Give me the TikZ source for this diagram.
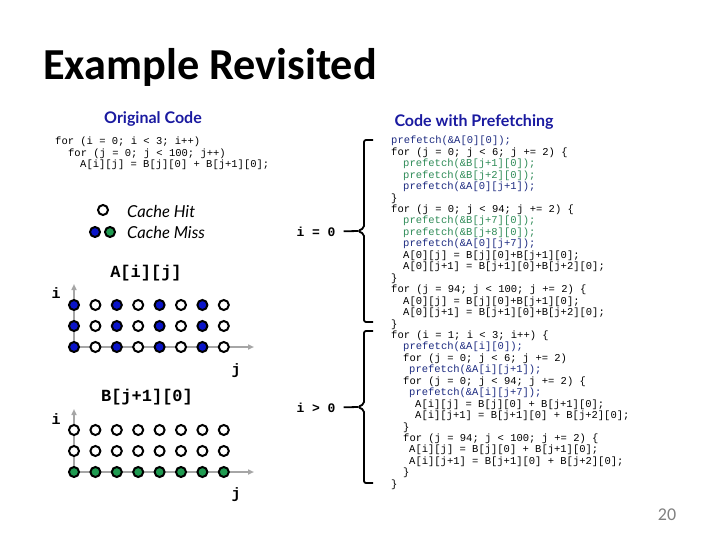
\documentclass[tikz,border=0pt]{standalone}
\usepackage{fontspec}
\setmainfont{Carlito}
\setmonofont{Liberation Mono}
\newfontfamily\headfont{Lato}
\usepackage{tikz}
\usetikzlibrary{arrows.meta, positioning}
\definecolor{slideblue}{HTML}{1A1AA0}
\definecolor{codenavy}{HTML}{1C2A80}
\definecolor{codegreen}{HTML}{2E8B57}
\definecolor{missblue}{HTML}{0A14C8}
\definecolor{missgreen}{HTML}{1F9A50}
\definecolor{axisgray}{HTML}{A6A6A6}
\newcommand{\codesize}{\fontsize{10.5}{11.45}\selectfont}
\newcommand{\codeind}[1]{\hspace*{#1pt}}
\newcommand{\navy}[1]{\textcolor{codenavy}{#1}}
\newcommand{\grn}[1]{\textcolor{codegreen}{#1}}
\tikzset{
  heading/.style={font=\headfont\bfseries\fontsize{16}{18}\selectfont, text=slideblue, inner sep=0pt},
  codebox/.style={font=\ttfamily\codesize, align=left, inner sep=0pt, anchor=north west},
  legendtext/.style={font=\headfont\itshape\fontsize{16.5}{18}\selectfont, inner sep=0pt, anchor=west},
  arrlabel/.style={font=\ttfamily\bfseries\fontsize{17}{19}\selectfont, inner sep=0pt},
  axislabel/.style={font=\ttfamily\bfseries\fontsize{15}{17}\selectfont, inner sep=0pt},
  caselabel/.style={font=\ttfamily\bfseries\fontsize{13}{15}\selectfont, inner sep=0pt},
  hit/.style={circle, draw=black, line width=2pt, fill=white, minimum size=10pt, inner sep=0pt},
  missa/.style={hit, fill=missblue},
  missb/.style={hit, fill=missgreen},
  axis/.style={-{Triangle[length=6pt, width=5pt]}, draw=axisgray, line width=1.5pt},
  brace/.style={line width=1.8pt, rounded corners=2pt},
  tick/.style={line width=1.8pt},
}

\begin{document}
\begin{tikzpicture}[x=1pt, y=-1pt]
  \useasboundingbox (0,0) rectangle (720,540);

  % title and headings
  \node[anchor=base west, inner sep=0pt, font=\bfseries\fontsize{44.3}{50}\selectfont]
    (title) at (43,80) {Example Revisited};
  \node[heading] (orighead) at (153,119) {Original Code};
  \node[heading] (prefhead) at (474,122) {Code with Prefetching};

  % original loop
  \node[codebox] (origcode) at (55,137) {%
    for (i = 0; i < 3; i++)\\
    \codeind{13}for (j = 0; j < 100; j++)\\
    \codeind{25}A[i][j] = B[j][0] + B[j+1][0];};

  % prefetching version
  \node[codebox] (prefcode) at (391,136) {%
    \navy{prefetch(\&A[0][0]);}\\
    for (j = 0; j < 6; j += 2) \{\\
    \codeind{12}\grn{prefetch(\&B[j+1][0]);}\\
    \codeind{12}\grn{prefetch(\&B[j+2][0]);}\\
    \codeind{12}\navy{prefetch(\&A[0][j+1]);}\\
    \}\\
    for (j = 0; j < 94; j += 2) \{\\
    \codeind{12}\grn{prefetch(\&B[j+7][0]);}\\
    \codeind{12}\grn{prefetch(\&B[j+8][0]);}\\
    \codeind{12}\navy{prefetch(\&A[0][j+7]);}\\
    \codeind{12}A[0][j] = B[j][0]+B[j+1][0];\\
    \codeind{12}A[0][j+1] = B[j+1][0]+B[j+2][0];\\
    \}\\
    for (j = 94; j < 100; j += 2) \{\\
    \codeind{12}A[0][j] = B[j][0]+B[j+1][0];\\
    \codeind{12}A[0][j+1] = B[j+1][0]+B[j+2][0];\\
    \}\\
    for (i = 1; i < 3; i++) \{\\
    \codeind{12}\navy{prefetch(\&A[i][0]);}\\
    \codeind{12}for (j = 0; j < 6; j += 2)\\
    \codeind{18}\navy{prefetch(\&A[i][j+1]);}\\
    \codeind{12}for (j = 0; j < 94; j += 2) \{\\
    \codeind{18}\navy{prefetch(\&A[i][j+7]);}\\
    \codeind{24}A[i][j] = B[j][0] + B[j+1][0];\\
    \codeind{24}A[i][j+1] = B[j+1][0] + B[j+2][0];\\
    \codeind{12}\}\\
    \codeind{12}for (j = 94; j < 100; j += 2) \{\\
    \codeind{18}A[i][j] = B[j][0] + B[j+1][0];\\
    \codeind{18}A[i][j+1] = B[j+1][0] + B[j+2][0];\\
    \codeind{12}\}\\
    \}};

  % legend
  \node[hit] (leghit) at (103,210) {};
  \node[missa] (legmissa) at (95,232) {};
  \node[missb] (legmissb) at (110,232) {};
  \node[legendtext] (hittext) at (127,211) {Cache Hit};
  \node[legendtext] (misstext) at (127,232) {Cache Miss};

  % i = 0 / i > 0 braces
  \node[caselabel] (casezero) at (316,232) {i = 0};
  \coordinate (tipzero) at (358,231);
  \draw[brace] (373,140) -- (364,140) -- (364,228) -- (tipzero) -- (364,234) -- (364,322) -- (373,322);
  \draw[tick, shorten <=8pt] (casezero) -- (tipzero);

  \node[caselabel] (casepos) at (316,408) {i > 0};
  \coordinate (tippos) at (358,407);
  \draw[brace] (373,331) -- (364,331) -- (364,404) -- (tippos) -- (364,410) -- (364,483) -- (373,483);
  \draw[tick, shorten <=8pt] (casepos) -- (tippos);

  % A[i][j] access pattern
  \node[arrlabel] (alabel) at (146,273) {A[i][j]};
  \node[axislabel] (ai) at (56,293) {i};
  \node[axislabel] (aj) at (236,371) {j};
  \coordinate (aorig) at (74,347);
  \coordinate (aup) at (74,284);
  \coordinate (aright) at (254,347);
  \draw[axis] (aorig) -- (aup);
  \draw[axis] (aorig) -- (aright);
  \foreach \c/\kind in {0/missa,1/hit,2/missa,3/hit,4/missa,5/hit,6/missa,7/hit}
    \foreach \r/\py in {0/305,1/326,2/347}
      \node[\kind] (a-\r-\c) at (74+21.4*\c,\py) {};

  % B[j+1][0] access pattern
  \node[arrlabel] (blabel) at (147,397) {B[j+1][0]};
  \node[axislabel] (bi) at (56,419) {i};
  \node[axislabel] (bj) at (236,495) {j};
  \coordinate (borig) at (74,472);
  \coordinate (bup) at (74,409);
  \coordinate (bright) at (254,472);
  \draw[axis] (borig) -- (bup);
  \draw[axis] (borig) -- (bright);
  \foreach \c in {0,...,7}
    \foreach \r/\py/\kind in {0/430/hit,1/451/hit,2/472/missb}
      \node[\kind] (b-\r-\c) at (74+21.4*\c,\py) {};

  \node[font=\fontsize{18}{20}\selectfont, text=gray] (pagenum) at (667,515) {20};
\end{tikzpicture}
\end{document}
